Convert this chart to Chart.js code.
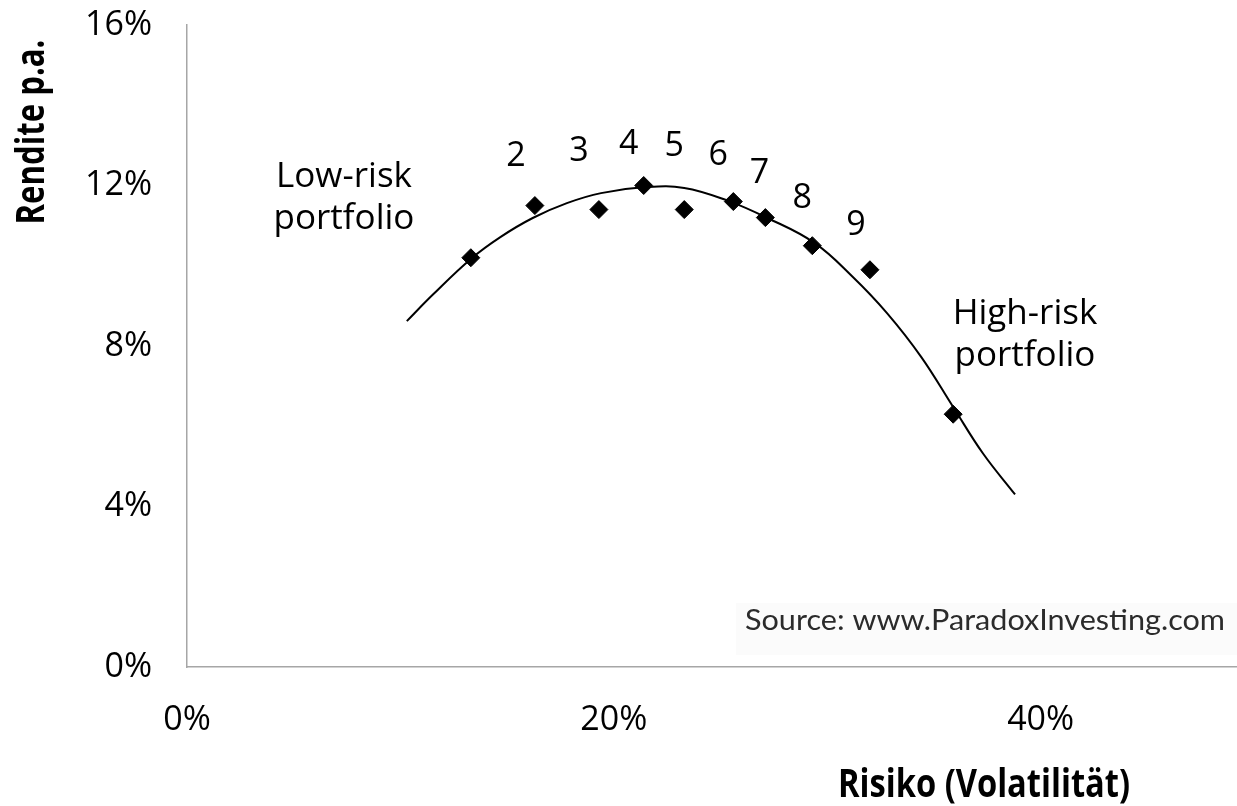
<!DOCTYPE html>
<html>
<head>
<meta charset="utf-8">
<script src="https://cdn.jsdelivr.net/npm/chart.js@4.4.1/dist/chart.umd.min.js"></script>
<style>
  html, body { margin: 0; padding: 0; background: #fff; overflow: hidden; }
  #wrap { width: 1237px; height: 806px; }
</style>
</head>
<body>
<div id="wrap"><canvas id="chart"></canvas></div>
<script>
// portfolios: risk (volatility, %) and return p.a. (%)
var riskValues = [13.3, 16.3, 19.3, 21.4, 23.3, 25.6, 27.1, 29.3, 32.0, 35.9];
var returnValues = [10.2, 11.5, 11.4, 12.0, 11.4, 11.6, 11.2, 10.5, 9.9, 6.3];
var pointLabels = ["", "2", "3", "4", "5", "6", "7", "8", "9", ""];

// trend curve
var trendRisk = [10.3, 11.5, 13.3, 14.7, 16.2, 17.8, 19.4, 21.5, 23.3, 25.3, 27.2, 29.4, 31.2, 32.8, 34.4, 35.9, 37.3, 38.8];
var trendReturn = [8.62, 9.27, 10.17, 10.72, 11.19, 11.56, 11.81, 11.96, 11.94, 11.63, 11.19, 10.57, 9.72, 8.82, 7.73, 6.48, 5.32, 4.3];

var xTicks = [0, 20, 40];
var yTicks = [0, 4, 8, 12, 16];

// pixel offsets of the number labels from their points (baseline)
var labelOffsets = [null, [-19, -40], [-20, -49], [-15, -32], [-10, -54], [-15, -37], [-6, -35], [-10, -38], [-14, -35], null];

function toPoints(xs, ys) {
    return xs.map(function (x, i) { return { x: x, y: ys[i] }; });
}

function fitText(ctx, text, x, y, width, rotate) {
    var w = ctx.measureText(text).width;
    ctx.save();
    ctx.translate(x, y);
    if (rotate) ctx.rotate(-Math.PI / 2);
    ctx.scale(width / w, 1);
    ctx.fillText(text, 0, 0);
    ctx.restore();
}

var textPlugin = {
    id: 'texts',
    beforeDatasetsDraw: function (chart) {
        var ctx = chart.ctx;
        ctx.save();
        ctx.fillStyle = '#fbfbfb';
        ctx.fillRect(736, 603, 501, 52);
        ctx.restore();
    },
    afterDraw: function (chart) {
        var ctx = chart.ctx;
        var meta = chart.getDatasetMeta(0);
        ctx.save();
        ctx.fillStyle = '#000';
        ctx.textAlign = 'center';
        ctx.textBaseline = 'alphabetic';

        ctx.font = '34px "Open Sans"';
        pointLabels.forEach(function (lbl, i) {
            if (!lbl) return;
            var p = meta.data[i];
            ctx.fillText(lbl, p.x + labelOffsets[i][0], p.y + labelOffsets[i][1]);
        });

        ctx.font = '35px "Open Sans"';
        ctx.fillText('Low-risk', 344, 187);
        ctx.fillText('portfolio', 344, 229);
        ctx.fillText('High-risk', 1025, 324);
        ctx.fillText('portfolio', 1025, 366);

        ctx.font = 'bold 40px "Open Sans"';
        fitText(ctx, 'Risiko (Volatilität)', 984, 797, 292, false);
        fitText(ctx, 'Rendite p.a.', 44, 132, 185, true);

        ctx.fillStyle = '#2b2b2b';
        ctx.font = '28px Lato';
        fitText(ctx, 'Source: www.ParadoxInvesting.com', 985, 630, 480, false);
        ctx.restore();
    }
};

new Chart(document.getElementById('chart'), {
    type: 'scatter',
    data: {
        datasets: [{
            label: 'Portfolios',
            data: toPoints(riskValues, returnValues),
            backgroundColor: '#000',
            borderColor: '#000',
            pointStyle: 'rectRot',
            pointRadius: 9,
            showLine: false
        }, {
            label: 'Trend',
            data: toPoints(trendRisk, trendReturn),
            borderColor: '#000',
            borderWidth: 2,
            pointRadius: 0,
            showLine: true,
            tension: 0.4
        }]
    },
    options: {
        responsive: true,
        maintainAspectRatio: false,
        animation: false,
        layout: { autoPadding: false, padding: { top: 25, left: 0, right: 0, bottom: 0 } },
        plugins: {
            legend: { display: false },
            tooltip: { enabled: false }
        },
        scales: {
            x: {
                type: 'linear',
                min: 0,
                max: 49.2,
                grid: { display: false, drawTicks: false },
                border: { display: true, color: '#a6a6a6', width: 1.5 },
                afterBuildTicks: function (scale) {
                    scale.ticks = xTicks.map(function (v) { return { value: v }; });
                },
                afterFit: function (scale) {
                    scale.height = 139;
                    scale.paddingLeft = 0;
                    scale.paddingRight = 0;
                },
                ticks: {
                    padding: 33,
                    color: '#000',
                    font: { family: '"Open Sans"', size: 34 },
                    maxRotation: 0,
                    callback: function (v) { return v + '%'; }
                }
            },
            y: {
                type: 'linear',
                min: 0,
                max: 16,
                grid: { display: false, drawTicks: false },
                border: { display: true, color: '#a6a6a6', width: 1.5 },
                afterBuildTicks: function (scale) {
                    scale.ticks = yTicks.map(function (v) { return { value: v }; });
                },
                afterFit: function (scale) {
                    scale.width = 187;
                    scale.paddingTop = 0;
                    scale.paddingBottom = 0;
                },
                ticks: {
                    padding: 35,
                    color: '#000',
                    font: { family: '"Open Sans"', size: 34 },
                    callback: function (v) { return v + '%'; }
                }
            }
        }
    },
    plugins: [textPlugin]
});
</script>
</body>
</html>
